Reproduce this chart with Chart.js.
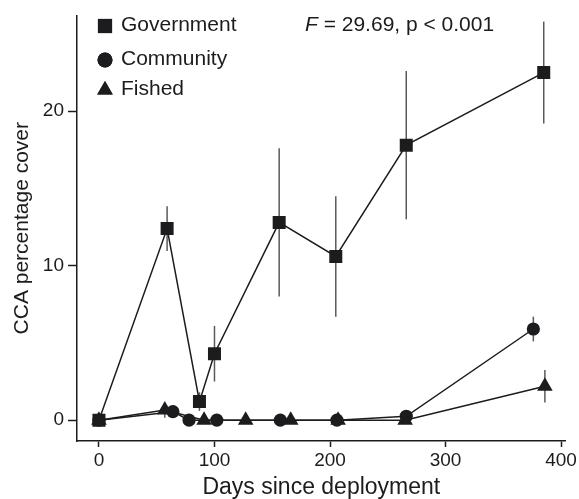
<!DOCTYPE html>
<html>
<head>
<meta charset="utf-8">
<script src="https://cdn.jsdelivr.net/npm/chart.js@4.4.0/dist/chart.umd.min.js"></script>
<style>
  html, body { margin: 0; padding: 0; background: #fff; }
  #wrap { width: 579px; height: 499px; }
</style>
</head>
<body>
<div id="wrap"><canvas id="cca"></canvas></div>
<script>
// values
const govDays = [0, 59, 87, 100, 156, 205, 266, 385];
const govCover = [0, 12.4, 1.2, 4.3, 12.8, 10.6, 17.8, 22.5];
const govErr = [0, 1.45, 0.6, 1.8, 4.8, 3.9, 4.8, 3.3];

const comDays = [0, 64, 78, 102, 157, 206, 266, 376];
const comCover = [0, 0.55, 0, 0, 0, 0, 0.25, 5.9];
const comErr = [0, 0.4, 0, 0, 0, 0, 0, 0.8];

const fishDays = [0, 57, 91, 127, 166, 207, 265, 386];
const fishCover = [0, 0.65, 0, 0, 0, 0, 0, 2.2];
const fishErr = [0, 0.5, 0, 0, 0, 0, 0, 1.05];

const xTicks = [0, 100, 200, 300, 400];
const yTicks = [0, 10, 20];

const ink = '#1c1c1e';
const font = 'Liberation Sans, Arial, sans-serif';

function pts(xs, ys) {
    return xs.map((x, i) => ({x, y: ys[i]}));
}

// vertical error bars drawn through the chart scales
const errorBars = {
    id: 'errorBars',
    beforeDatasetsDraw(chart) {
        const {ctx, scales: {x, y}} = chart;
        const sets = [[fishDays, fishCover, fishErr], [comDays, comCover, comErr], [govDays, govCover, govErr]];
        ctx.save();
        ctx.strokeStyle = '#5a5a5a';
        ctx.lineWidth = 1.5;
        sets.forEach(([xs, ys, es]) => {
            xs.forEach((d, i) => {
                if (!es[i]) return;
                const px = x.getPixelForValue(d);
                ctx.beginPath();
                ctx.moveTo(px, y.getPixelForValue(ys[i] - es[i]));
                ctx.lineTo(px, y.getPixelForValue(ys[i] + es[i]));
                ctx.stroke();
            });
        });
        ctx.restore();
    }
};

// legend and F statistic inside the plot
const notes = {
    id: 'notes',
    afterDraw(chart) {
        const {ctx} = chart;
        ctx.save();
        ctx.fillStyle = ink;
        ctx.textBaseline = 'middle';
        ctx.font = '21px ' + font;
        const rows = [['rect', 'Government', 25, 10], ['circle', 'Community', 59, 7.5], ['triangle', 'Fished', 89, 9]];
        rows.forEach(([shape, label, yy, r]) => {
            const cy = shape === 'triangle' ? yy + 1 : yy + 1;
            Chart.helpers.drawPoint(ctx, {pointStyle: shape, radius: r, borderWidth: 0}, 105, cy);
            ctx.fill();
            ctx.fillText(label, 121, yy);
        });
        ctx.font = 'italic 21px ' + font;
        ctx.fillText('F', 305, 25);
        const fw = ctx.measureText('F').width;
        ctx.font = '21px ' + font;
        ctx.fillText(' = 29.69, p < 0.001', 305 + fw, 25);
        ctx.restore();
    }
};

function series(label, data, style, r) {
    return {
        label,
        data,
        borderColor: ink,
        backgroundColor: ink,
        borderWidth: 1.5,
        pointStyle: style,
        pointRadius: r,
        pointHoverRadius: r,
        pointBorderWidth: 0,
        showLine: true,
        tension: 0
    };
}

new Chart(document.getElementById('cca'), {
    type: 'scatter',
    data: {
        datasets: [
            series('Fished', pts(fishDays, fishCover), 'triangle', 9),
            series('Community', pts(comDays, comCover), 'circle', 6.6),
            series('Government', pts(govDays, govCover), 'rect', 9.2)
        ]
    },
    options: {
        responsive: true,
        maintainAspectRatio: false,
        animation: false,
        layout: {padding: {top: 12, right: 9, left: 0, bottom: 0}},
        plugins: {
            legend: {display: false},
            tooltip: {enabled: false}
        },
        scales: {
            x: {
                type: 'linear',
                min: -19,
                max: 404,
                afterBuildTicks: s => { s.ticks = xTicks.map(v => ({value: v})); },
                afterFit: s => { s.height = 58; },
                border: {display: true, color: ink, width: 1.5},
                grid: {drawOnChartArea: false, drawTicks: true, tickLength: 6, color: ink, tickWidth: 1.5},
                ticks: {color: ink, font: {family: font, size: 19}, padding: 2},
                title: {display: true, text: 'Days since deployment', color: ink, font: {family: font, size: 23, lineHeight: 1}, padding: {top: 0, bottom: 0}}
            },
            y: {
                type: 'linear',
                min: -1.35,
                max: 26.2,
                afterBuildTicks: s => { s.ticks = yTicks.map(v => ({value: v})); },
                afterFit: s => { s.width = 77; },
                border: {display: true, color: ink, width: 1.5},
                grid: {drawOnChartArea: false, drawTicks: true, tickLength: 9, color: ink, tickWidth: 1.5},
                ticks: {color: ink, font: {family: font, size: 19}, padding: 4},
                title: {display: true, text: 'CCA percentage cover', color: ink, font: {family: font, size: 21, lineHeight: 1}, padding: {top: 12, bottom: 0}}
            }
        }
    },
    plugins: [errorBars, notes]
});
</script>
</body>
</html>
